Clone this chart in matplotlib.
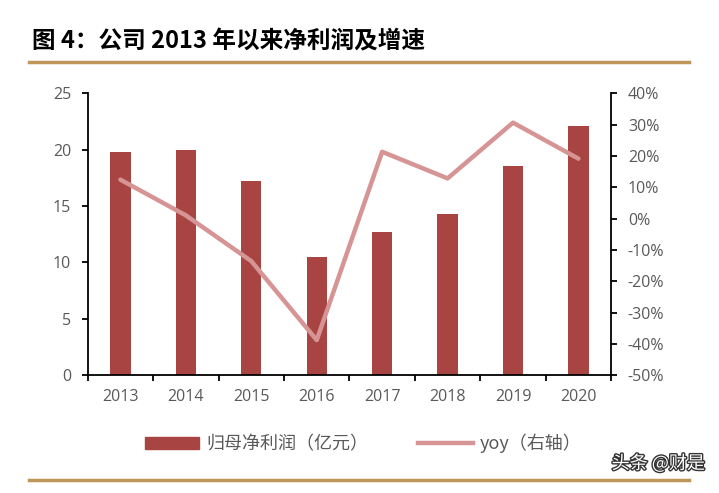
import matplotlib
matplotlib.use("Agg")
import matplotlib.pyplot as plt
import matplotlib.patheffects as pe
from matplotlib.lines import Line2D
from matplotlib.patches import Patch
import numpy as np

plt.rcParams['font.family'] = ['Noto Sans CJK SC', 'DejaVu Sans']

# donnees
annees = ['2013', '2014', '2015', '2016', '2017', '2018', '2019', '2020']
profit = [19.8, 19.95, 17.2, 10.45, 12.65, 14.25, 18.55, 22.05]
yoy = [12.4, 1.0, -13.6, -38.8, 21.3, 12.8, 30.6, 19.1]
gauche_ticks = [0, 5, 10, 15, 20, 25]
droite_ticks = [-50, -40, -30, -20, -10, 0, 10, 20, 30, 40]

couleur_barre = '#A84442'
couleur_ligne = '#D69494'
gris = '#595959'

fig = plt.figure(figsize=(7.19, 4.93), dpi=100)
ax = fig.add_axes([0.122, 0.239, 0.728, 0.572])
ax2 = ax.twinx()

x = np.arange(len(annees))
ax.bar(x, profit, width=0.31, color=couleur_barre, zorder=2)
ax2.plot(x, yoy, color=couleur_ligne, lw=3.2, solid_capstyle='round', zorder=3)
ax.set_zorder(ax2.get_zorder() - 1)
ax.patch.set_visible(False)

ax.set_xlim(-0.5, len(annees) - 0.5)
ax.set_ylim(0, 25)
ax2.set_ylim(-50, 40)
ax.set_yticks(gauche_ticks)
ax2.set_yticks(droite_ticks)
ax2.set_yticklabels([f'{v}%' for v in droite_ticks])

ax.set_xticks(x)
ax.set_xticklabels(annees)
ax.set_xticks(np.arange(len(annees) + 1) - 0.5, minor=True)
ax.tick_params(axis='x', which='major', length=0, pad=10, labelsize=11.5, labelcolor=gris)
ax.tick_params(axis='x', which='minor', length=4, width=1.3, direction='out')
ax.tick_params(axis='y', length=4, width=1.3, direction='out', labelsize=11.5, labelcolor=gris, pad=8)
ax2.tick_params(axis='y', length=4, width=1.3, direction='out', labelsize=11.5, labelcolor=gris, pad=8)

for a in (ax, ax2):
    a.spines['top'].set_visible(False)
    for s in ('left', 'right', 'bottom'):
        a.spines[s].set_linewidth(1.3)
ax.spines['right'].set_visible(False)
ax2.spines['left'].set_visible(False)
ax2.spines['bottom'].set_visible(False)

for lab in ax.get_xticklabels() + ax.get_yticklabels() + ax2.get_yticklabels():
    lab.set_family(['Open Sans', 'DejaVu Sans'])

# titre et filets
fig.text(0.045, 0.915, '图 4：公司 2013 年以来净利润及增速', fontsize=17,
         fontweight='heavy', va='center', ha='left')
fig.add_artist(Line2D([0.040, 0.958], [0.874, 0.874], color='#C0955A', lw=2.5))
fig.add_artist(Line2D([0.040, 0.958], [0.027, 0.027], color='#C0955A', lw=2.5))

poignees = [Patch(color=couleur_barre), Line2D([0], [0], color=couleur_ligne, lw=3.2)]
fig.legend(poignees, ['归母净利润（亿元）', 'yoy（右轴）'], loc='center',
           bbox_to_anchor=(0.505, 0.1), ncol=2, frameon=False, fontsize=13,
           labelcolor=gris, handlelength=3.0, columnspacing=2.8, handletextpad=0.4)

fig.text(0.98, 0.06, '头条 @财是', fontsize=13, color='white', ha='right', va='center',
         path_effects=[pe.withStroke(linewidth=2, foreground='#333333')])

fig.savefig('out.png', dpi=100)
